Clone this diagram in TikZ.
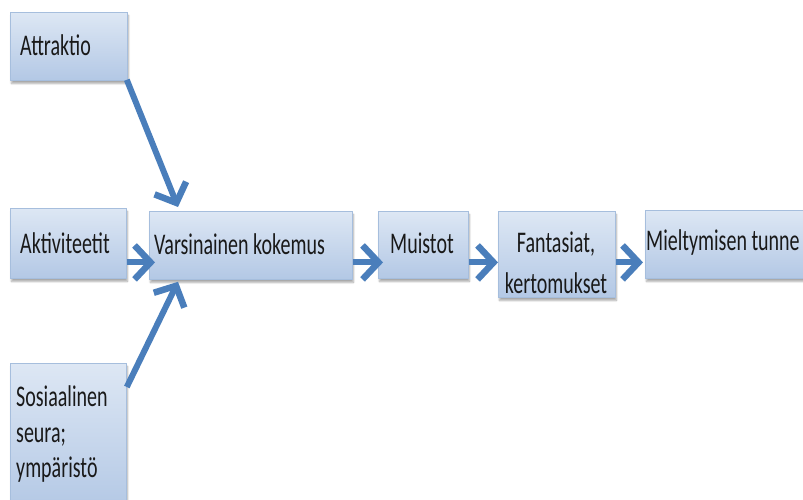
\documentclass[tikz,border=0pt]{standalone}
\usepackage{fontspec}
\setmainfont{Carlito}
\usetikzlibrary{arrows.meta,shadows.blur}
\definecolor{boxtop}{HTML}{DDE7F4}
\definecolor{boxbot}{HTML}{B3C8E5}
\definecolor{boxedge}{HTML}{A6BEDD}
\definecolor{flow}{HTML}{4A7EBB}
\tikzset{
  stage/.style={draw=boxedge, line width=0.8pt, top color=boxtop, bottom color=boxbot,
    inner sep=0pt, anchor=north west,
    blur shadow={shadow xshift=1pt, shadow yshift=-3pt, shadow blur steps=6, shadow opacity=35}},
  boxtext/.style={font=\fontsize{20}{23.5}\selectfont, inner sep=0pt, text=black!90,
    transform shape, yscale=1.5},
  flowarrow/.style={draw=flow, line width=6pt,
    -{Straight Barb[length=16pt,width=34pt,line width=6.5pt]}},
}
\begin{document}
\begin{tikzpicture}[x=1pt,y=-1pt]
\useasboundingbox (0,0) rectangle (803,500);

% boxes
\node[stage, minimum width=117pt, minimum height=68pt]  (att) at (10,12)  {};
\node[stage, minimum width=116pt, minimum height=70pt]  (akt) at (10,208) {};
\node[stage, minimum width=203pt, minimum height=68pt]  (var) at (149,211) {};
\node[stage, minimum width=90pt,  minimum height=67pt]  (mui) at (378,211) {};
\node[stage, minimum width=117pt, minimum height=86pt]  (fan) at (498,211) {};
\node[stage, minimum width=175pt, minimum height=68pt]  (mie) at (645,210) {};
\node[stage, minimum width=116pt, minimum height=147pt] (sos) at (10,363) {};

% box texts
\node[boxtext, anchor=west] (attT) at (20,45)  {Attraktio};
\node[boxtext, anchor=west] (aktT) at (20,243) {Aktiviteetit};
\node[boxtext, anchor=west] (varT) at (154,244) {Varsinainen kokemus};
\node[boxtext, anchor=west] (muiT) at (390,243) {Muistot};
\node[boxtext, align=center, font=\fontsize{20}{27}\selectfont] (fanT) at (556,263) {Fantasiat,\\kertomukset};
\node[boxtext, anchor=west] (mieT) at (646,243) {Mieltymisen tunne};
\node[boxtext, anchor=west, align=left] (sosT) at (16,434) {Sosiaalinen\\seura;\\ympäristö};

% connectors
\draw[flowarrow] ([xshift=-1pt,yshift=1pt]att.south east) -- ([xshift=29pt,yshift=4pt]var.north west);
\draw[flowarrow] ([yshift=-19pt]akt.east) -- ([xshift=6pt,yshift=-17pt]var.west);
\draw[flowarrow] ([yshift=-24pt]sos.north east) -- ([xshift=29pt,yshift=-2pt]var.south west);
\draw[flowarrow] ([yshift=-17pt]var.east) -- ([xshift=5pt,yshift=-17.5pt]mui.west);
\draw[flowarrow] ([yshift=-17.5pt]mui.east) -- ([yshift=-8pt]fan.west);
\draw[flowarrow] ([yshift=-8pt]fan.east) -- ([xshift=-2pt,yshift=-18pt]mie.west);
\end{tikzpicture}
\end{document}
